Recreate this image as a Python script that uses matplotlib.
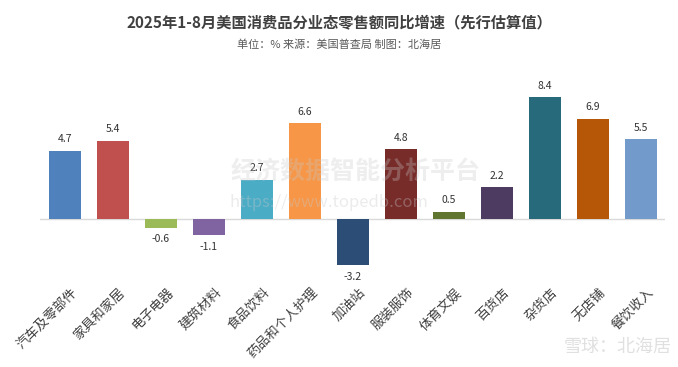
"""US retail sales growth by category, Jan-Aug 2025."""

import matplotlib

matplotlib.use("Agg")
import matplotlib.pyplot as plt

plt.rcParams["font.family"] = ["Noto Sans CJK SC", "DejaVu Sans"]

categories = [
    "汽车及零部件", "家具和家居", "电子电器", "建筑材料", "食品饮料",
    "药品和个人护理", "加油站", "服装服饰", "体育文娱", "百货店",
    "杂货店", "无店铺", "餐饮收入",
]
growth = [4.7, 5.4, -0.6, -1.1, 2.7, 6.6, -3.2, 4.8, 0.5, 2.2, 8.4, 6.9, 5.5]
colors = [
    "#4F81BD", "#C0504D", "#9BBB59", "#8064A2", "#4BACC6", "#F79646",
    "#2C4D75", "#772C2A", "#5F7530", "#4D3B62", "#276A7C", "#B65708",
    "#729ACA",
]

fig = plt.figure(figsize=(6.78, 3.67), dpi=100)
ax = fig.add_axes([40 / 678, 0.2507, 625 / 678, 0.504])

x = range(len(categories))
ax.bar(x, growth, width=0.67, color=colors, zorder=2)
ax.axhline(0, color="#d9d9d9", linewidth=1, zorder=1)

for xi, v in zip(x, growth):
    if v >= 0:
        ax.text(xi, v + 0.45, f"{v:.1f}", ha="center", va="bottom",
                fontsize=7.5, color="#333333")
    else:
        ax.text(xi, v - 0.45, f"{v:.1f}", ha="center", va="top",
                fontsize=7.5, color="#333333")

ax.set_xlim(-0.52, 12.5)
ax.set_ylim(-3.86, 8.9)
ax.set_yticks([])
ax.set_xticks([])
for spine in ax.spines.values():
    spine.set_visible(False)

# category labels hang under the plot area, rotated 45 degrees
for xi, name in zip(x, categories):
    px = ax.transData.transform((xi + 0.12, 0))[0] / 678
    fig.text(px, 1 - 286 / 367, name, rotation=45, ha="right", va="top",
             rotation_mode="anchor", fontsize=9.5, color="#404040")

fig.text(0.5, 1 - 22 / 367, "2025年1-8月美国消费品分业态零售额同比增速（先行估算值）",
         ha="center", va="center", fontsize=11, fontweight="bold",
         color="#404040")
fig.text(0.5, 1 - 45 / 367, "单位：% 来源：美国普查局 制图：北海居",
         ha="center", va="center", fontsize=8, color="#595959")

# watermarks
fig.text(0.525, 1 - 172 / 367, "经济数据智能分析平台", ha="center", va="center",
         fontsize=18, fontweight="bold", color="#c8c8c8", alpha=0.3)
fig.text(0.485, 1 - 203 / 367, "https://www.topedb.com", ha="center",
         va="center", fontsize=12, style="italic", color="#c8c8c8", alpha=0.35)
fig.text(0.99, 1 - 347 / 367, "雪球：北海居", ha="right", va="center",
         fontsize=13, color="#e0e0e0")

fig.savefig("out.png", dpi=100)
